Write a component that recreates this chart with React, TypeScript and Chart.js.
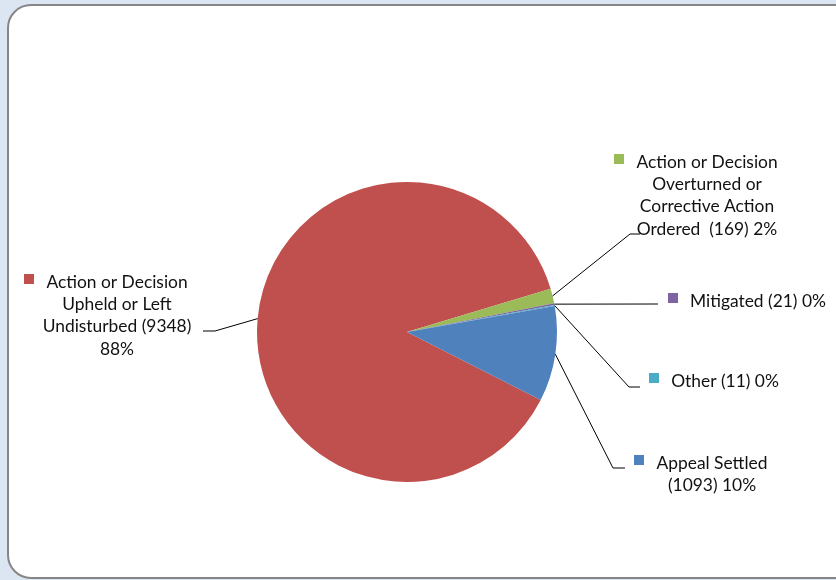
import React, { useEffect, useRef } from "react";
import { Chart, registerables } from "chart.js";

Chart.register(...registerables);

const categories = [
  "Action or Decision Upheld or Left Undisturbed",
  "Action or Decision Overturned or Corrective Action Ordered",
  "Mitigated",
  "Other",
  "Appeal Settled",
];
const values = [9348, 169, 21, 11, 1093];
const colors = ["#C0504D", "#9BBB59", "#8064A2", "#4BACC6", "#4F81BD"];
const labelLines = [
  ["Action or Decision", "Upheld or Left", "Undisturbed (9348)", "88%"],
  ["Action or Decision", "Overturned or", "Corrective Action", "Ordered  (169) 2%"],
  ["Mitigated (21) 0%"],
  ["Other (11) 0%"],
  ["Appeal Settled", "(1093) 10%"],
];

// layout of the data labels (text centre x, first-line centre y, leader bend points)
const labelLayout = [
  { cx: 117, y0: 282, leader: [[215, 331], [203, 331]] },
  { cx: 707, y0: 162, leader: [[630, 234], [640, 234]] },
  { cx: 758, y0: 301, leader: [[658, 304]] },
  { cx: 725, y0: 381, leader: [[629, 387], [640, 387]] },
  { cx: 712, y0: 463, leader: [[613, 468], [625, 468]] },
];
const LINE_H = 22.3;
const FONT = '17.4px Lato, "Open Sans", sans-serif';

const labelPlugin = {
  id: "pieLabels",
  afterDraw(chart: any) {
    const ctx = chart.ctx;
    const meta = chart.getDatasetMeta(0);
    ctx.save();
    meta.data.forEach((arc: any, i: number) => {
      const { x, y, startAngle, endAngle, outerRadius } = arc.getProps(
        ["x", "y", "startAngle", "endAngle", "outerRadius"],
        true
      );
      const mid = (startAngle + endAngle) / 2;
      const px = x + Math.cos(mid) * outerRadius;
      const py = y + Math.sin(mid) * outerRadius;
      const lay = labelLayout[i];
      ctx.strokeStyle = "#000";
      ctx.lineWidth = 1;
      ctx.beginPath();
      ctx.moveTo(px, py);
      lay.leader.forEach((p) => ctx.lineTo(p[0], p[1]));
      ctx.stroke();

      ctx.font = FONT;
      ctx.textAlign = "center";
      ctx.textBaseline = "middle";
      ctx.fillStyle = "#111";
      const lines = labelLines[i];
      lines.forEach((t, j) => ctx.fillText(t, lay.cx, lay.y0 + j * LINE_H));
      const w = ctx.measureText(lines[0]).width;
      ctx.fillStyle = colors[i];
      ctx.fillRect(Math.round(lay.cx - w / 2 - 12 - 10), Math.round(lay.y0 - 8), 10, 10);
    });
    ctx.restore();
  },
};

export default function App() {
  const ref = useRef<HTMLCanvasElement | null>(null);

  useEffect(() => {
    if (!ref.current) return;
    const chart = new Chart(ref.current, {
      type: "pie",
      data: {
        labels: categories,
        datasets: [
          {
            data: values,
            backgroundColor: colors,
            borderWidth: 0,
            hoverOffset: 0,
            radius: 150,
          } as any,
        ],
      },
      options: {
        responsive: false,
        animation: false,
        rotation: 117,
        layout: { padding: { left: 257, top: 182, right: 279, bottom: 98 } },
        plugins: {
          legend: { display: false },
          tooltip: { enabled: false },
        },
      },
      plugins: [labelPlugin],
    });
    return () => chart.destroy();
  }, []);

  return (
    <div
      style={{
        position: "fixed",
        left: 0,
        top: 0,
        width: 836,
        height: 580,
        overflow: "hidden",
        background: "#dce6f2",
      }}
    >
      <div
        style={{
          position: "absolute",
          left: 7,
          top: 4,
          width: 860,
          height: 575,
          boxSizing: "border-box",
          border: "2px solid #868686",
          borderRadius: 24,
          background: "#ffffff",
        }}
      />
      <canvas
        ref={ref}
        width={836}
        height={580}
        style={{ position: "absolute", left: 0, top: 0 }}
      />
    </div>
  );
}
